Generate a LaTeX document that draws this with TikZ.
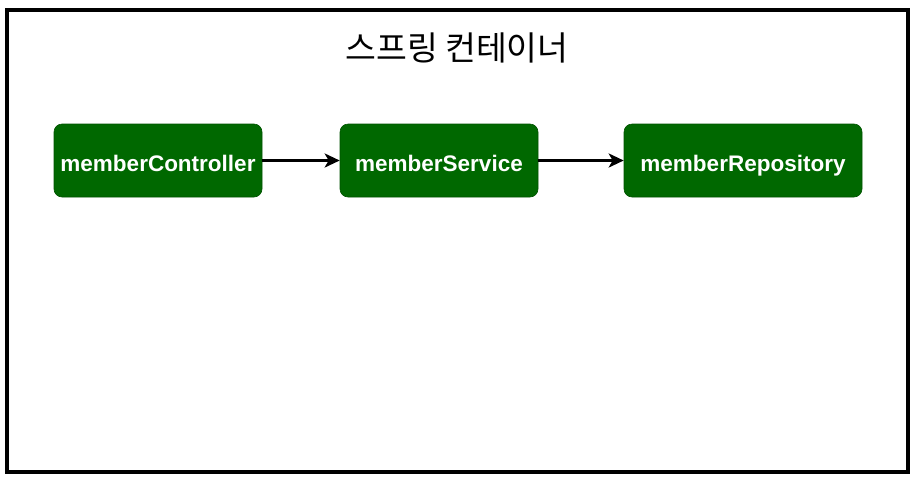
\documentclass[tikz,border=0pt]{standalone}
\usepackage{fontspec}
\setmainfont{Liberation Sans}
\newfontfamily\kofont{Noto Sans CJK KR}
\usetikzlibrary{arrows.meta}
\definecolor{beangreen}{RGB}{0,104,0}
\tikzset{
  bean/.style={shape=rectangle,rounded corners=8pt,fill=beangreen,draw=beangreen!80!black,
    line width=0.6pt,text=white,font=\fontsize{22.5}{26}\selectfont\bfseries,
    minimum height=73pt,inner sep=0pt,text height=21pt,text depth=0pt},
  dep/.style={-{Stealth[length=15pt,width=14pt,inset=4pt]},line width=3pt}
}
\begin{document}
\begin{tikzpicture}[x=1pt,y=-1pt]
\useasboundingbox (0,0) rectangle (912,480);
\draw[line width=4pt] (7,10) rectangle (907.5,471.5);
\node(title) at (457,48) {\kofont\fontsize{33.5}{38}\selectfont 스프링 컨테이너};
\node(ctrl) at (158,160.5)[bean,minimum width=208pt]        {memberController};
\node(svc) at (439,160.5)[bean,minimum width=198pt]        {memberService};
\node(repo) at (743,160.5)[bean,minimum width=238pt]        {memberRepository};

\path [dep]
  (ctrl)      edge      (svc)
  (svc)       edge      (repo);
\end{tikzpicture}
\end{document}
